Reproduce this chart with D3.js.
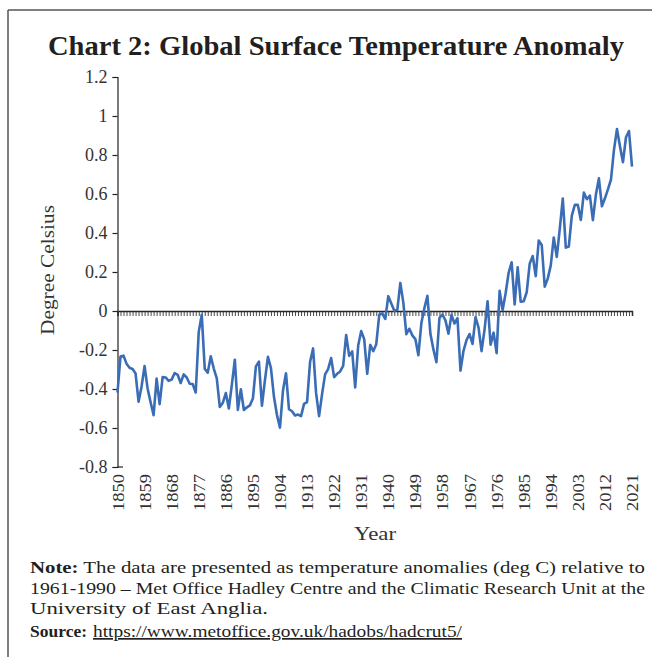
<!DOCTYPE html>
<html><head><meta charset="utf-8">
<script src="https://cdn.jsdelivr.net/npm/d3@7"></script>
<style>body{margin:0;background:#fff}svg{display:block}</style>
</head><body>
<script>
const startYear = 1850;
const anomalies = [
-0.418,-0.233,-0.229,-0.270,-0.291,-0.297,-0.320,-0.465,-0.387,-0.282,
-0.397,-0.468,-0.534,-0.347,-0.478,-0.339,-0.341,-0.358,-0.352,-0.318,
-0.327,-0.369,-0.325,-0.341,-0.373,-0.375,-0.418,-0.107,-0.019,-0.297,
-0.316,-0.232,-0.295,-0.346,-0.492,-0.471,-0.421,-0.500,-0.379,-0.250,
-0.507,-0.401,-0.508,-0.494,-0.484,-0.449,-0.284,-0.260,-0.486,-0.355,
-0.235,-0.293,-0.440,-0.533,-0.598,-0.408,-0.319,-0.504,-0.514,-0.536,
-0.531,-0.539,-0.476,-0.467,-0.262,-0.192,-0.420,-0.539,-0.425,-0.325,
-0.298,-0.241,-0.339,-0.322,-0.310,-0.282,-0.123,-0.230,-0.207,-0.392,
-0.177,-0.103,-0.145,-0.322,-0.174,-0.206,-0.170,-0.019,-0.012,-0.041,
0.076,0.038,0.001,0.006,0.144,0.043,-0.119,-0.091,-0.125,-0.144,
-0.227,-0.061,0.015,0.078,-0.117,-0.197,-0.263,-0.035,-0.018,-0.048,
-0.116,-0.020,-0.064,-0.037,-0.306,-0.204,-0.149,-0.118,-0.169,-0.031,
-0.085,-0.206,-0.094,0.050,-0.173,-0.111,-0.216,0.103,0.005,0.091,
0.196,0.250,0.034,0.224,0.048,0.050,0.096,0.243,0.282,0.179,
0.361,0.339,0.125,0.166,0.234,0.377,0.277,0.422,0.577,0.325,
0.331,0.489,0.544,0.544,0.467,0.607,0.573,0.592,0.466,0.597,
0.680,0.537,0.578,0.624,0.673,0.825,0.933,0.845,0.763,0.891,
0.923,0.740
];
const years = anomalies.map((d,i)=>startYear+i);
const yTicks = [1.2,1,0.8,0.6,0.4,0.2,0,-0.2,-0.4,-0.6,-0.8];
const xLabelYears = d3.range(1850, 2022, 9);
const title = "Chart 2: Global Surface Temperature Anomaly";
const yTitle = "Degree Celsius";
const xTitle = "Year";

const W = 652, H = 657;
const svg = d3.select("body").append("svg").attr("width",W).attr("height",H);
const serif = "'Liberation Serif','DejaVu Serif',serif";

// frame
svg.append("line").attr("x1",8).attr("x2",W).attr("y1",10).attr("y2",10).attr("stroke","#555").attr("stroke-width",1.5);
svg.append("line").attr("x1",8).attr("x2",8).attr("y1",10).attr("y2",H).attr("stroke","#555").attr("stroke-width",1.5);

svg.append("text").attr("x",336).attr("y",55).attr("text-anchor","middle")
  .attr("font-family",serif).attr("font-weight","bold").attr("font-size",28)
  .attr("textLength",576).attr("lengthAdjust","spacingAndGlyphs")
  .attr("fill","#231f20").text(title);

const x = d3.scaleLinear().domain([1850,2021]).range([117.5,632]);
const y = d3.scaleLinear().domain([-0.8,1.2]).range([467,77]);

// y axis
const yAxis = d3.axisLeft(y).tickValues(yTicks).tickSize(5).tickPadding(5)
  .tickFormat(d=>String(d));
const gy = svg.append("g").attr("transform","translate(117.5,0)").call(yAxis);
gy.select(".domain").attr("stroke","#222").attr("stroke-width",1.2);
gy.selectAll(".tick line").attr("stroke","#222").attr("stroke-width",1.2);
gy.selectAll(".tick text").attr("font-family",serif).attr("font-size",18).attr("fill","#333");
svg.append("line").attr("x1",117.5).attr("x2",123).attr("y1",y(-0.8)).attr("y2",y(-0.8)).attr("stroke","#222").attr("stroke-width",1.2);

// zero category axis with yearly ticks
const gx = svg.append("g").attr("transform",`translate(0,${y(0)})`)
  .call(d3.axisBottom(x).tickValues(years).tickSize(5).tickFormat(""));
gx.select(".domain").attr("stroke","#222").attr("stroke-width",1.5);
gx.selectAll(".tick line").attr("stroke","#333").attr("stroke-width",0.9);

// x labels at bottom
svg.append("g").selectAll("text").data(xLabelYears).join("text")
  .attr("transform",d=>`translate(${x(d)+6},474) rotate(-90)`)
  .attr("text-anchor","end").attr("font-family",serif).attr("font-size",17).attr("fill","#333")
  .attr("textLength",37).attr("lengthAdjust","spacingAndGlyphs")
  .text(d=>d);

// line
const line = d3.line().x((d,i)=>x(years[i])).y(d=>y(d));
svg.append("path").datum(anomalies).attr("d",line).attr("fill","none")
  .attr("stroke","#3a6db5").attr("stroke-width",2.6).attr("stroke-linejoin","round");

// axis titles
svg.append("text").attr("transform","translate(54,270) rotate(-90)").attr("text-anchor","middle")
  .attr("font-family",serif).attr("font-size",19).attr("fill","#333")
  .attr("textLength",130).attr("lengthAdjust","spacingAndGlyphs").text(yTitle);
svg.append("text").attr("x",375).attr("y",540).attr("text-anchor","middle")
  .attr("font-family",serif).attr("font-size",19).attr("fill","#333")
  .attr("textLength",42).attr("lengthAdjust","spacingAndGlyphs").text(xTitle);

// notes
const nf = 17;
const t1 = svg.append("text").attr("x",30).attr("y",573).attr("font-family",serif).attr("font-size",nf).attr("fill","#231f20")
  .attr("textLength",615).attr("lengthAdjust","spacingAndGlyphs");
t1.append("tspan").attr("font-weight","bold").text("Note:");
t1.append("tspan").text(" The data are presented as temperature anomalies (deg C) relative to");
svg.append("text").attr("x",30).attr("y",594).attr("font-family",serif).attr("font-size",nf).attr("fill","#231f20")
  .attr("textLength",615).attr("lengthAdjust","spacingAndGlyphs")
  .text("1961-1990 \u2013 Met Office Hadley Centre and the Climatic Research Unit at the");
svg.append("text").attr("x",30).attr("y",614).attr("font-family",serif).attr("font-size",nf).attr("fill","#231f20")
  .attr("textLength",238).attr("lengthAdjust","spacingAndGlyphs")
  .text("University of East Anglia.");
svg.append("text").attr("x",30).attr("y",637).attr("font-family",serif).attr("font-size",nf).attr("fill","#231f20")
  .attr("font-weight","bold").attr("textLength",57).attr("lengthAdjust","spacingAndGlyphs").text("Source:");
svg.append("text").attr("x",93).attr("y",637).attr("font-family",serif).attr("font-size",nf).attr("fill","#231f20")
  .attr("text-decoration","underline").attr("textLength",369).attr("lengthAdjust","spacingAndGlyphs")
  .text("https://www.metoffice.gov.uk/hadobs/hadcrut5/");
</script>
</body></html>
